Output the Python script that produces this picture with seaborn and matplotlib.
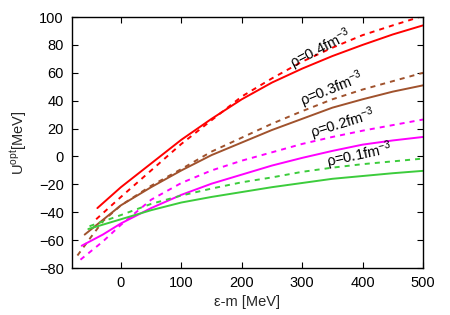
import matplotlib
matplotlib.use("Agg")
import matplotlib.pyplot as plt
import seaborn as sns
import pandas as pd

# ---- data ----
e_r4_solid = [-39, 0, 50, 100, 150, 200, 250, 300, 350, 400, 450, 500]
u_r4_solid = [-37, -22, -5, 12, 27, 41, 53, 63, 72, 80, 87.5, 94]
e_r4_dash = [-41, 0, 50, 100, 150, 200, 250, 300, 350, 400, 450, 487, 500]
u_r4_dash = [-45, -29, -10, 9, 26, 43, 56, 68, 78, 87, 94, 99, 101]

e_r3_solid = [-60, 0, 50, 100, 150, 200, 250, 300, 350, 400, 450, 500]
u_r3_solid = [-56, -35, -22, -10, 1, 10, 19, 27, 35, 41, 46.5, 51]
e_r3_dash = [-72, -50, -29, 0, 50, 100, 150, 200, 250, 300, 350, 400, 450, 500]
u_r3_dash = [-71, -58, -46, -35, -21, -9, 3.5, 13.5, 23.5, 32.5, 41, 48, 54, 60]

e_r2_solid = [-65, -30, 0, 50, 100, 150, 200, 250, 300, 350, 400, 450, 500]
u_r2_solid = [-64, -56, -48, -37, -27.5, -19.5, -13, -6.5, -1, 4, 8.5, 11.5, 14]
e_r2_dash = [-67, -30, 0, 50, 100, 150, 200, 250, 300, 350, 400, 450, 500]
u_r2_dash = [-74, -61, -49, -31, -19, -10, -3, 3, 9, 14, 18.5, 22.5, 26.5]

e_r1_solid = [-54, 0, 50, 100, 150, 200, 250, 300, 350, 400, 450, 500]
u_r1_solid = [-52, -45, -38.5, -33, -29, -25.5, -22, -19, -16, -14, -12, -10.3]
e_r1_dash = [-52, 0, 50, 100, 150, 200, 250, 300, 350, 400, 450, 500]
u_r1_dash = [-50, -42, -34, -28, -23, -18.5, -15, -11, -8, -5.5, -3.5, -1.5]

labels = ["ρ=0.4fm$^{-3}$", "ρ=0.3fm$^{-3}$", "ρ=0.2fm$^{-3}$", "ρ=0.1fm$^{-3}$"]
label_pos = [(331, 77), (350, 48), (368, 23), (395, 0.5)]
label_rot = [27, 22, 17, 12]

x_ticks = [0, 100, 200, 300, 400, 500]
y_ticks = [-80, -60, -40, -20, 0, 20, 40, 60, 80, 100]

colors = ["#ff0000", "#a0522d", "#ff00ff", "#3ccc3c"]

# ---- style ----
sns.set_style("ticks")
plt.rcParams["font.family"] = ["Liberation Sans", "DejaVu Sans"]
plt.rcParams["mathtext.default"] = "regular"

fig = plt.figure(figsize=(4.5, 3.15), dpi=100)
ax = fig.add_axes([0.16, 0.149, 0.78, 0.797])

series = [
    (e_r4_solid, u_r4_solid, e_r4_dash, u_r4_dash),
    (e_r3_solid, u_r3_solid, e_r3_dash, u_r3_dash),
    (e_r2_solid, u_r2_solid, e_r2_dash, u_r2_dash),
    (e_r1_solid, u_r1_solid, e_r1_dash, u_r1_dash),
]
for (es, us, ed, ud), c in zip(series, colors):
    sns.lineplot(x=es, y=us, ax=ax, color=c, lw=1.4, sort=False,
                 estimator=None)
    l = sns.lineplot(x=ed, y=ud, ax=ax, color=c, lw=1.4, sort=False,
                     estimator=None)
    l.lines[-1].set_dashes((2.6, 2.6))

for txt, (px, py), rot in zip(labels, label_pos, label_rot):
    ax.text(px, py, txt, rotation=rot, rotation_mode="anchor",
            ha="center", va="center", fontsize=10.5, color="black")

ax.set_xlim(-81, 500)
ax.set_ylim(-80, 100)
ax.set_xticks(x_ticks)
ax.set_yticks(y_ticks)
ax.tick_params(direction="in", length=4.5, width=0.8, top=True, right=True,
               labelsize=10.5, colors="black", pad=6)
for s in ax.spines.values():
    s.set_visible(True)
    s.set_linewidth(1.0)
    s.set_color("black")
ax.set_xlabel("ε-m [MeV]", fontsize=10.5, labelpad=3)
ax.set_ylabel("U$^{opt}$[MeV]", fontsize=10.5, labelpad=7)

fig.savefig("out.png", dpi=100)
